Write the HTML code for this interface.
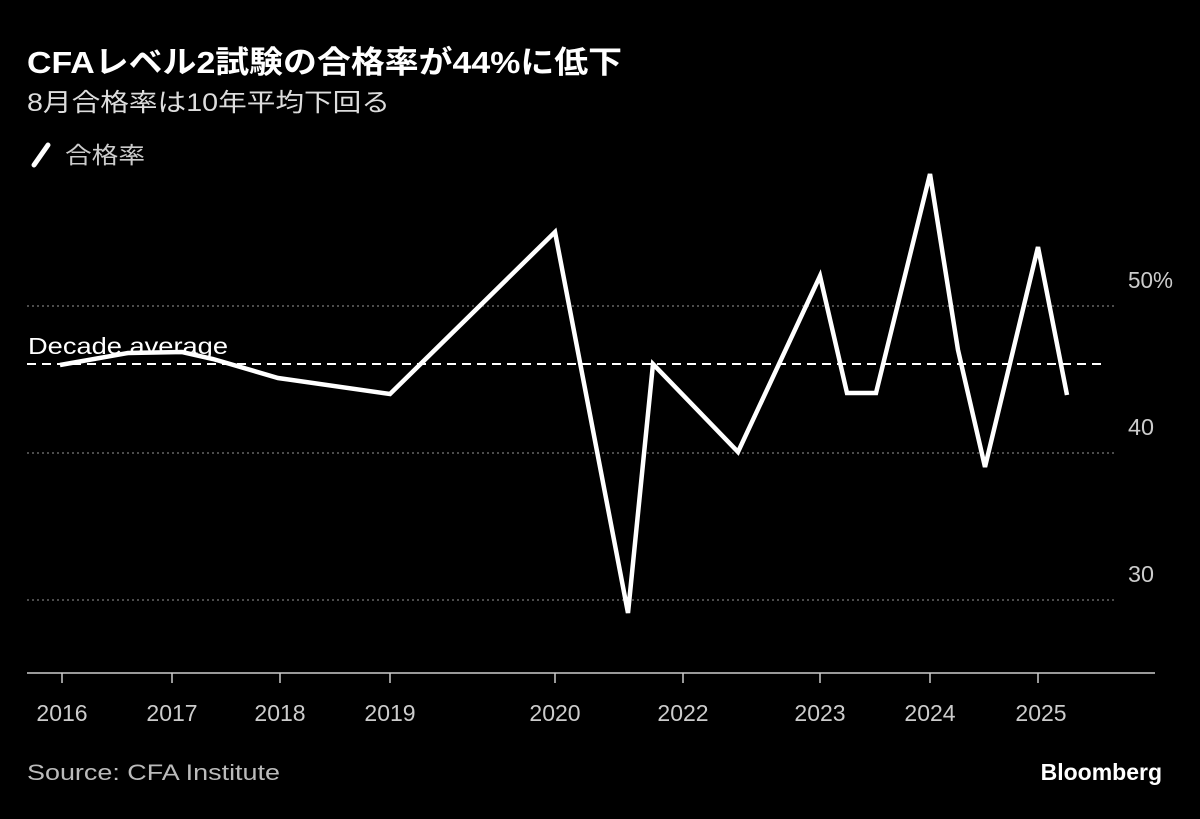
<!DOCTYPE html>
<html><head><meta charset="utf-8"><style>
body{margin:0;background:#000;width:1200px;height:814px;overflow:hidden;font-family:"Liberation Sans","Noto Sans CJK JP",sans-serif;color:#fff}
</style></head><body>
<svg width="1200" height="814" xmlns="http://www.w3.org/2000/svg" font-family="Liberation Sans, Noto Sans CJK JP, sans-serif">
<rect width="1200" height="814" fill="#000"/>
<text x="27" y="73" font-size="31" font-weight="bold" fill="#fff" textLength="595" lengthAdjust="spacingAndGlyphs">CFAレベル2試験の合格率が44%に低下</text>
<text x="27" y="111" font-size="25" fill="#ddd" textLength="363" lengthAdjust="spacingAndGlyphs">8月合格率は10年平均下回る</text>
<line x1="34" y1="165" x2="48" y2="145" stroke="#fff" stroke-width="5" stroke-linecap="round"/>
<text x="65" y="163" font-size="23" fill="#ccc" textLength="80" lengthAdjust="spacingAndGlyphs">合格率</text>
<g stroke="#666" stroke-width="1.5" stroke-dasharray="2,3">
<line x1="27" y1="306" x2="1115" y2="306"/>
<line x1="27" y1="453" x2="1115" y2="453"/>
<line x1="27" y1="600" x2="1115" y2="600"/>
</g>
<g font-size="23" fill="#ccc">
<text x="1128" y="288" textLength="45" lengthAdjust="spacingAndGlyphs">50%</text>
<text x="1128" y="435" textLength="26" lengthAdjust="spacingAndGlyphs">40</text>
<text x="1128" y="582" textLength="26" lengthAdjust="spacingAndGlyphs">30</text>
</g>
<line x1="27" y1="673" x2="1155" y2="673" stroke="#ccc" stroke-width="1.5"/>
<g stroke="#ccc" stroke-width="1.5">
<line x1="62" y1="673" x2="62" y2="683"/><line x1="172" y1="673" x2="172" y2="683"/>
<line x1="280" y1="673" x2="280" y2="683"/><line x1="390" y1="673" x2="390" y2="683"/>
<line x1="555" y1="673" x2="555" y2="683"/><line x1="683" y1="673" x2="683" y2="683"/>
<line x1="820" y1="673" x2="820" y2="683"/><line x1="930" y1="673" x2="930" y2="683"/>
<line x1="1038" y1="673" x2="1038" y2="683"/>
</g>
<g font-size="23" fill="#ccc" text-anchor="middle">
<text x="62" y="721">2016</text><text x="172" y="721">2017</text><text x="280" y="721">2018</text>
<text x="390" y="721">2019</text><text x="555" y="721">2020</text><text x="683" y="721">2022</text>
<text x="820" y="721">2023</text><text x="930" y="721">2024</text><text x="1041" y="721">2025</text>
</g>
<text x="28" y="354" font-size="23" fill="#fff" textLength="200" lengthAdjust="spacingAndGlyphs">Decade average</text>
<polyline fill="none" stroke="#fff" stroke-width="4.5" stroke-linejoin="miter" points="60,365 128,353 182,352 213,359 278,378 390,394 555,232 628,613 653,364 738,452 820,276 847,393 876,393 930,174 958,350 985,467 1038,247 1067,395"/>
<line x1="27" y1="364" x2="1102" y2="364" stroke="#fff" stroke-width="2" stroke-dasharray="9,6"/>
<text x="27" y="780" font-size="22" fill="#bbb" textLength="253" lengthAdjust="spacingAndGlyphs">Source: CFA Institute</text>
<text x="1162" y="780" font-size="23" font-weight="bold" fill="#fff" text-anchor="end">Bloomberg</text>
</svg>
</body></html>
